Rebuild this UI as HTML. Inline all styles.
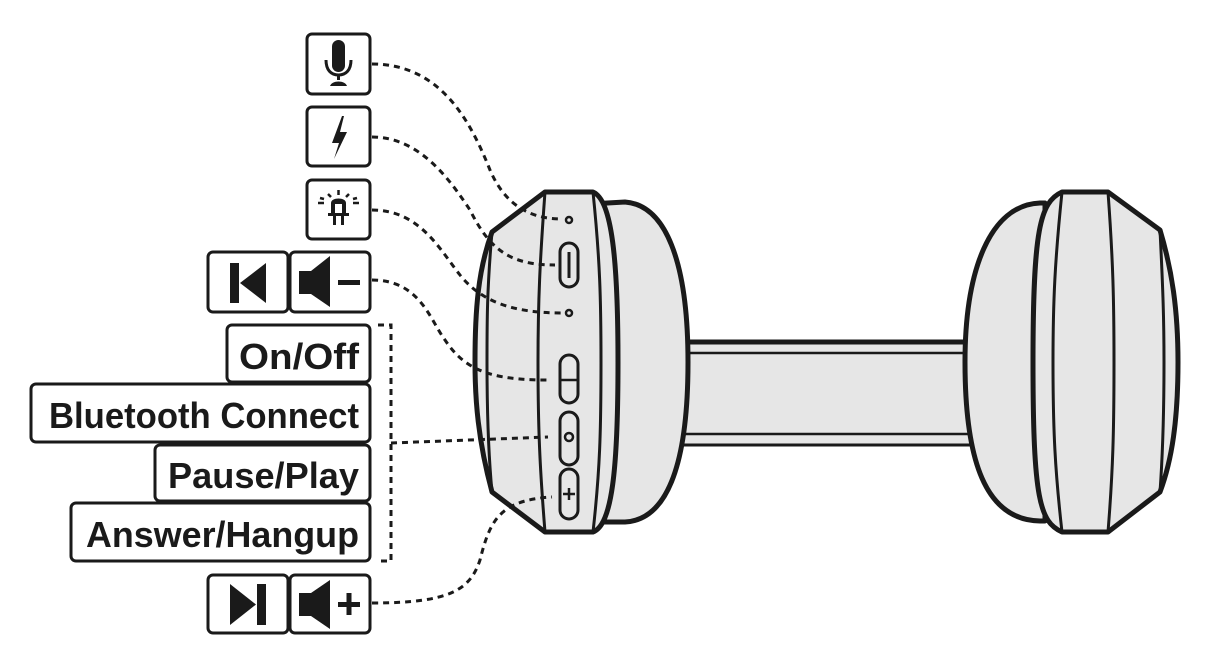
<!DOCTYPE html>
<html><head><meta charset="utf-8"><style>
html,body{margin:0;padding:0;background:#fff;}
svg{display:block;}
text{font-family:"Liberation Sans",sans-serif;font-weight:bold;fill:#1a1a1a;}
</style></head><body>
<svg width="1210" height="668" viewBox="0 0 1210 668" xmlns="http://www.w3.org/2000/svg">
<!-- headband -->
<g stroke="#1a1a1a" fill="#e6e6e6">
<rect x="680" y="342" width="290" height="103" stroke="none"/>
<line x1="680" y1="342" x2="970" y2="342" stroke-width="5"/>
<line x1="680" y1="353" x2="970" y2="353" stroke-width="2.5"/>
<line x1="680" y1="434" x2="970" y2="434" stroke-width="2.5"/>
<line x1="680" y1="445" x2="970" y2="445" stroke-width="3"/>
</g>
<!-- left cup -->
<g stroke="#1a1a1a" fill="#e6e6e6" stroke-linejoin="round">
<path d="M590,204 L625,202 C665,205 688,260 688,362 C688,470 665,520 625,522 L590,522 Z" stroke-width="5"/>
<path d="M545,192 L593,192 C612,200 618,260 618,362 C618,470 612,525 593,532 L545,532 L492,492 C478,440 475,400 475,362 C475,310 478,270 492,232 Z" stroke-width="5"/>
<path d="M545,192 C540,260 538,300 538,362 C538,430 540,470 545,532" fill="none" stroke-width="3"/>
<path d="M593,192 C600,260 601,300 601,362 C601,430 600,470 593,532" fill="none" stroke-width="3"/>
<path d="M492,232 C487,290 487,320 487,362 C487,410 488,450 492,492" fill="none" stroke-width="3"/>
<circle cx="569" cy="220" r="3" stroke-width="2.5"/>
<rect x="560" y="243" width="18" height="44" rx="9" stroke-width="3"/>
<line x1="569" y1="252" x2="569" y2="278" stroke-width="3"/>
<circle cx="569" cy="313" r="3" stroke-width="2.5"/>
<rect x="560" y="355" width="18" height="48" rx="9" stroke-width="3"/>
<line x1="560" y1="380" x2="578" y2="380" stroke-width="2.5"/>
<rect x="560" y="412" width="18" height="53" rx="9" stroke-width="3"/>
<circle cx="569" cy="437" r="4" stroke-width="2.5"/>
<rect x="560" y="469" width="18" height="50" rx="9" stroke-width="3"/>
<path d="M563,494 H575 M569,488 V500" stroke-width="2.5"/>
</g>
<!-- right cup -->
<g stroke="#1a1a1a" fill="#e6e6e6" stroke-linejoin="round">
<path d="M1045,203 L1040,203 C990,205 965,270 965,362 C965,460 985,520 1040,521 L1045,521 Z" stroke-width="5"/>
<path d="M1062,192 L1108,192 L1160,230 C1172,270 1178,310 1178,362 C1178,420 1172,460 1160,492 L1108,532 L1062,532 C1040,522 1033,500 1033,362 C1033,230 1040,202 1062,192 Z" stroke-width="5"/>
<path d="M1062,192 C1055,260 1053,300 1053,362 C1053,430 1055,470 1062,532" fill="none" stroke-width="3"/>
<path d="M1108,192 C1113,260 1114,300 1114,362 C1114,430 1113,470 1108,532" fill="none" stroke-width="3"/>
<path d="M1160,230 C1163,290 1164,320 1164,362 C1164,410 1163,450 1160,492" fill="none" stroke-width="3"/>
</g>
<!-- connectors -->
<g fill="none" stroke="#1a1a1a" stroke-width="3" stroke-dasharray="6,5">
<path d="M372,64 C440,64 470,120 490,170 C505,205 530,219 562,219"/>
<path d="M372,137 C420,137 450,180 470,210 C490,250 510,265 555,265"/>
<path d="M372,210 C420,210 440,250 460,275 C480,300 510,313 562,313"/>
<path d="M372,280 C420,280 430,320 445,340 C465,370 490,380 548,380"/>
<path d="M372,603 C450,603 470,590 480,560 C490,520 500,500 552,497"/>
<path d="M378,325 H391 V561 H378"/>
<path d="M391,443 L548,437"/>
</g>
<!-- boxes -->
<g fill="#fff" stroke="#1a1a1a" stroke-width="3">
<rect x="307" y="34" width="63" height="60" rx="5"/>
<rect x="307" y="107" width="63" height="59" rx="5"/>
<rect x="307" y="180" width="63" height="59" rx="5"/>
<rect x="208" y="252" width="80" height="60" rx="5"/>
<rect x="290" y="252" width="80" height="60" rx="5"/>
<rect x="227" y="325" width="143" height="57" rx="5"/>
<rect x="31" y="384" width="339" height="58" rx="5"/>
<rect x="155" y="445" width="215" height="56" rx="5"/>
<rect x="71" y="503" width="299" height="58" rx="5"/>
<rect x="208" y="575" width="80" height="58" rx="5"/>
<rect x="290" y="575" width="80" height="58" rx="5"/>
</g>
<!-- icons -->
<g fill="#1a1a1a" stroke="none">
<rect x="332" y="40" width="13" height="32" rx="6.5"/>
<path d="M326,60 C326,70 331,75 338.5,75 C346,75 351,70 351,60" fill="none" stroke="#1a1a1a" stroke-width="3"/>
<rect x="337" y="74" width="3" height="6"/>
<path d="M330,86 C332,80 345,80 347,86 Z"/>
<path d="M342,116 L332,143 L339,143 L334,159 L347,132 L340,132 L344,116 Z"/>
<path d="M331,214 V203 C331,197 346,197 346,203 V214 Z"/>
<rect x="335" y="204" width="7" height="10" fill="#fff"/>
<rect x="328" y="213" width="21" height="3"/>
<rect x="333" y="216" width="3" height="9"/><rect x="341" y="216" width="3" height="9"/>
<g stroke="#1a1a1a" stroke-width="2.5">
<line x1="338.5" y1="190" x2="338.5" y2="195"/>
<line x1="328" y1="194" x2="331" y2="197"/><line x1="349" y1="194" x2="346" y2="197"/>
<line x1="318" y1="203" x2="324" y2="203"/><line x1="353" y1="203" x2="359" y2="203"/>
<line x1="320" y1="198" x2="324" y2="199"/><line x1="357" y1="198" x2="353" y2="199"/>
</g>
<rect x="230" y="263" width="9" height="40"/>
<path d="M266,263 L240,283 L266,303 Z"/>
<path d="M299,271 H311 L330,256 V307 L311,294 H299 Z"/>
<rect x="338" y="280" width="22" height="5"/>
<rect x="257" y="584" width="9" height="41"/>
<path d="M230,584 L256,604.5 L230,625 Z"/>
<path d="M299,593 H311 L330,580 V629 L311,616 H299 Z"/>
<rect x="338" y="602" width="22" height="5"/><rect x="346.5" y="593" width="5" height="22"/>
</g>
<text x="359" y="369" font-size="36" text-anchor="end" textLength="120" lengthAdjust="spacingAndGlyphs">On/Off</text>
<text x="359" y="428" font-size="36" text-anchor="end" textLength="310" lengthAdjust="spacingAndGlyphs">Bluetooth Connect</text>
<text x="359" y="488" font-size="36" text-anchor="end" textLength="191" lengthAdjust="spacingAndGlyphs">Pause/Play</text>
<text x="359" y="547" font-size="36" text-anchor="end" textLength="273" lengthAdjust="spacingAndGlyphs">Answer/Hangup</text>
</svg>
</body></html>
